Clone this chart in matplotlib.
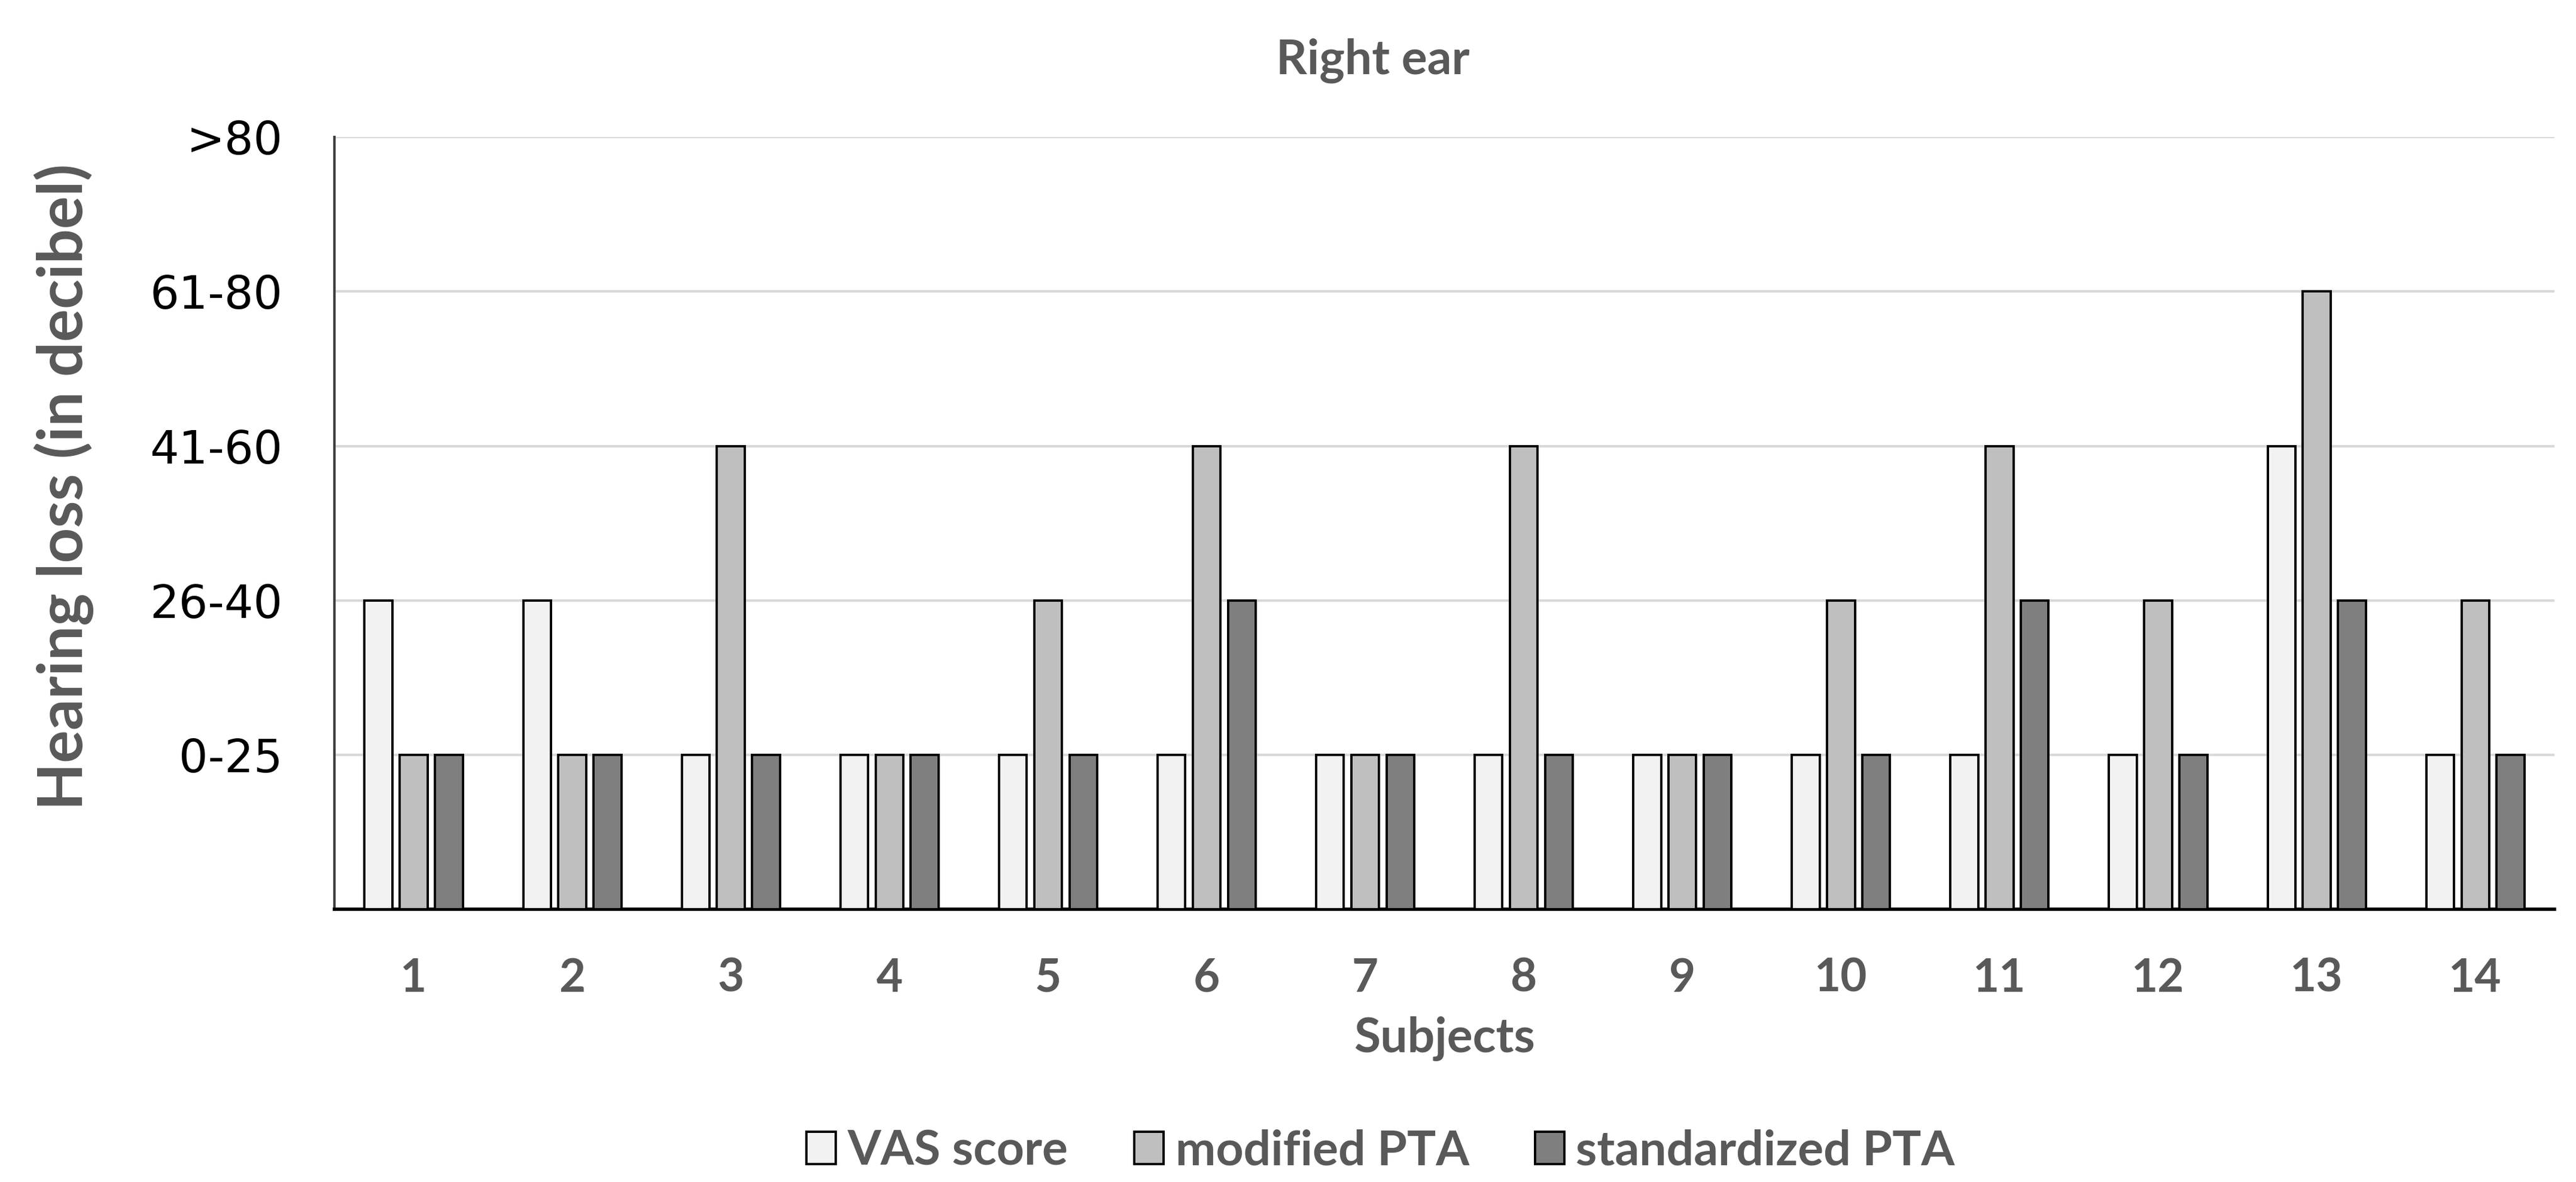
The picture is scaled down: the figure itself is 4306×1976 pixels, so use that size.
import matplotlib
import matplotlib.pyplot as plt
import numpy as np

matplotlib.use("Agg")

subjects = list(range(1, 14 + 1))
level_labels = ["0-25", "26-40", "41-60", "61-80", ">80"]
series_names = ["VAS score", "modified PTA", "standardized PTA"]
series_colors = ["#F2F2F2", "#BFBFBF", "#7F7F7F"]

# hearing loss class per subject (1 = 0-25, 2 = 26-40, 3 = 41-60, 4 = 61-80, 5 = >80)
vas_score = [2, 2, 1, 1, 1, 1, 1, 1, 1, 1, 1, 1, 3, 1]
modified_pta = [1, 1, 3, 1, 2, 3, 1, 3, 1, 2, 3, 2, 4, 2]
standardized_pta = [1, 1, 1, 1, 1, 2, 1, 1, 1, 1, 2, 1, 2, 1]

GRAY = "#595959"
NARROW = ["Lato", "DejaVu Sans"]

fig = plt.figure(figsize=(43.06, 19.76), dpi=100)
ax = fig.add_axes([0.1298, 0.2306, 0.8619, 0.6534])

x = np.arange(1, len(subjects) + 1)
offsets = [-0.222, 0.0, 0.222]
for values, name, color, off in zip([vas_score, modified_pta, standardized_pta], series_names, series_colors, offsets):
    ax.bar(x + off, values, width=0.175, color=color, edgecolor="black", linewidth=2.8, label=name, zorder=3)

ax.set_xlim(0.5, len(subjects) + 0.5)
ax.set_ylim(0, 5)
ax.set_yticks(range(1, 6))
ax.set_yticklabels(level_labels, fontsize=55, family="DejaVu Sans", color="black")
ax.set_xticks(x)
ax.set_xticklabels([str(s) for s in subjects], fontsize=55, family=NARROW, fontweight="bold", color=GRAY)
ax.tick_params(axis="y", length=0, pad=62)
ax.tick_params(axis="x", length=0, pad=58)

ax.yaxis.grid(True, color="#D9D9D9", linewidth=3, zorder=0)
ax.set_axisbelow(True)
for side in ["top", "right"]:
    ax.spines[side].set_visible(False)
ax.spines["left"].set_color("#404040")
ax.spines["left"].set_linewidth(3)
ax.spines["bottom"].set_color("black")
ax.spines["bottom"].set_linewidth(4)

ax.set_xlabel("Subjects", fontsize=58, family=NARROW, fontweight="bold", color=GRAY, labelpad=20)
fig.text(0.533, 0.949, "Right ear", fontsize=58, family=NARROW, fontweight="bold", color=GRAY,
         ha="center", va="center")
fig.text(0.0249, 0.588, "Hearing loss (in decibel)", fontsize=74, family=NARROW, fontweight="bold",
         color=GRAY, rotation=90, ha="center", va="center")

leg = fig.legend(loc="center", bbox_to_anchor=(0.536, 0.0263), ncol=3, frameon=False,
                 prop={"family": NARROW, "weight": "bold", "size": 58},
                 handlelength=0.61, handleheight=0.65, handletextpad=0.24, columnspacing=1.37)
for t in leg.get_texts():
    t.set_color(GRAY)

fig.savefig("out.png", dpi=100)
